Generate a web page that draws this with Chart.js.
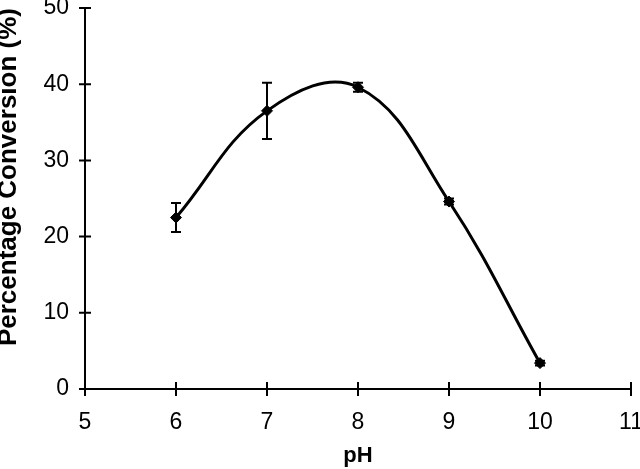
<!DOCTYPE html>
<html>
<head>
<meta charset="utf-8">
<script src="https://cdn.jsdelivr.net/npm/chart.js@4"></script>
<style>
  html, body { margin: 0; padding: 0; background: #ffffff; }
  #wrap { width: 640px; height: 469px; }
</style>
</head>
<body>
<div id="wrap"><canvas id="c" width="640" height="469"></canvas></div>
<script>
const pHValues = [6, 7, 8, 9, 10];
const conversion = [22.5, 36.5, 39.6, 24.6, 3.4];
const errorBars = [1.9, 3.7, 0.6, 0.4, 0.3];
const xTicks = [5, 6, 7, 8, 9, 10, 11];
const yTicks = [0, 10, 20, 30, 40, 50];

const FONT = '"Liberation Sans", Arial, sans-serif';

const errorBarPlugin = {
  id: 'errorBars',
  afterDatasetsDraw(chart) {
    const ctx = chart.ctx;
    const xs = chart.scales.x, ys = chart.scales.y;
    ctx.save();
    ctx.strokeStyle = '#000';
    ctx.lineWidth = 2;
    pHValues.forEach((x, i) => {
      const px = xs.getPixelForValue(x);
      const top = ys.getPixelForValue(conversion[i] + errorBars[i]);
      const bot = ys.getPixelForValue(conversion[i] - errorBars[i]);
      ctx.beginPath();
      ctx.moveTo(px, top); ctx.lineTo(px, bot);
      ctx.moveTo(px - 5, top); ctx.lineTo(px + 5, top);
      ctx.moveTo(px - 5, bot); ctx.lineTo(px + 5, bot);
      ctx.stroke();
    });
    ctx.restore();
  }
};

const crossTickPlugin = {
  id: 'crossTicks',
  afterDraw(chart) {
    const ctx = chart.ctx;
    const xs = chart.scales.x, ys = chart.scales.y;
    const area = chart.chartArea;
    ctx.save();
    ctx.strokeStyle = '#000';
    ctx.lineWidth = 2;
    ctx.beginPath();
    xTicks.forEach(v => {
      const px = xs.getPixelForValue(v);
      ctx.moveTo(px, area.bottom - 7);
      ctx.lineTo(px, area.bottom + 7);
    });
    yTicks.forEach(v => {
      const py = ys.getPixelForValue(v);
      ctx.moveTo(area.left - 6, py);
      ctx.lineTo(area.left + 6, py);
    });
    ctx.stroke();
    ctx.restore();
  }
};

new Chart(document.getElementById('c'), {
  type: 'line',
  data: {
    datasets: [{
      data: pHValues.map((x, i) => ({ x: x, y: conversion[i] })),
      borderColor: '#000',
      backgroundColor: '#000',
      borderWidth: 3,
      tension: 0.4,
      pointStyle: 'rectRot',
      pointRadius: 5.5,
      pointBackgroundColor: '#000',
      pointBorderColor: '#000',
      pointBorderWidth: 1,
      fill: false
    }]
  },
  options: {
    responsive: false,
    animation: false,
    devicePixelRatio: 1,
    layout: { padding: { top: 8, right: 9, left: 0, bottom: 0 } },
    plugins: {
      legend: { display: false },
      tooltip: { enabled: false }
    },
    scales: {
      x: {
        type: 'linear',
        min: 5, max: 11,
        afterBuildTicks(scale) { scale.ticks = xTicks.map(v => ({ value: v })); },
        afterFit(scale) { scale.height = 80; scale.paddingLeft = 0; scale.paddingRight = 0; },
        grid: { display: false, drawTicks: false },
        border: { display: true, color: '#000', width: 2 },
        ticks: { color: '#000', padding: 20, font: { family: FONT, size: 23 }, maxRotation: 0 },
        title: {
          display: true, text: 'pH', color: '#000',
          font: { family: FONT, size: 22, weight: 'bold' },
          padding: 0
        }
      },
      y: {
        type: 'linear',
        min: 0, max: 50,
        afterBuildTicks(scale) { scale.ticks = yTicks.map(v => ({ value: v })); },
        afterFit(scale) { scale.width = 85; scale.paddingTop = 0; scale.paddingBottom = 0; },
        grid: { display: false, drawTicks: false },
        border: { display: true, color: '#000', width: 2 },
        ticks: { color: '#000', padding: 16, font: { family: FONT, size: 23 } },
        title: {
          display: true, text: 'Percentage Conversion (%)', color: '#000',
          align: 'end',
          font: { family: FONT, size: 26, weight: 'bold', lineHeight: '18px' },
          padding: 0
        }
      }
    }
  },
  plugins: [errorBarPlugin, crossTickPlugin]
});
</script>
</body>
</html>
